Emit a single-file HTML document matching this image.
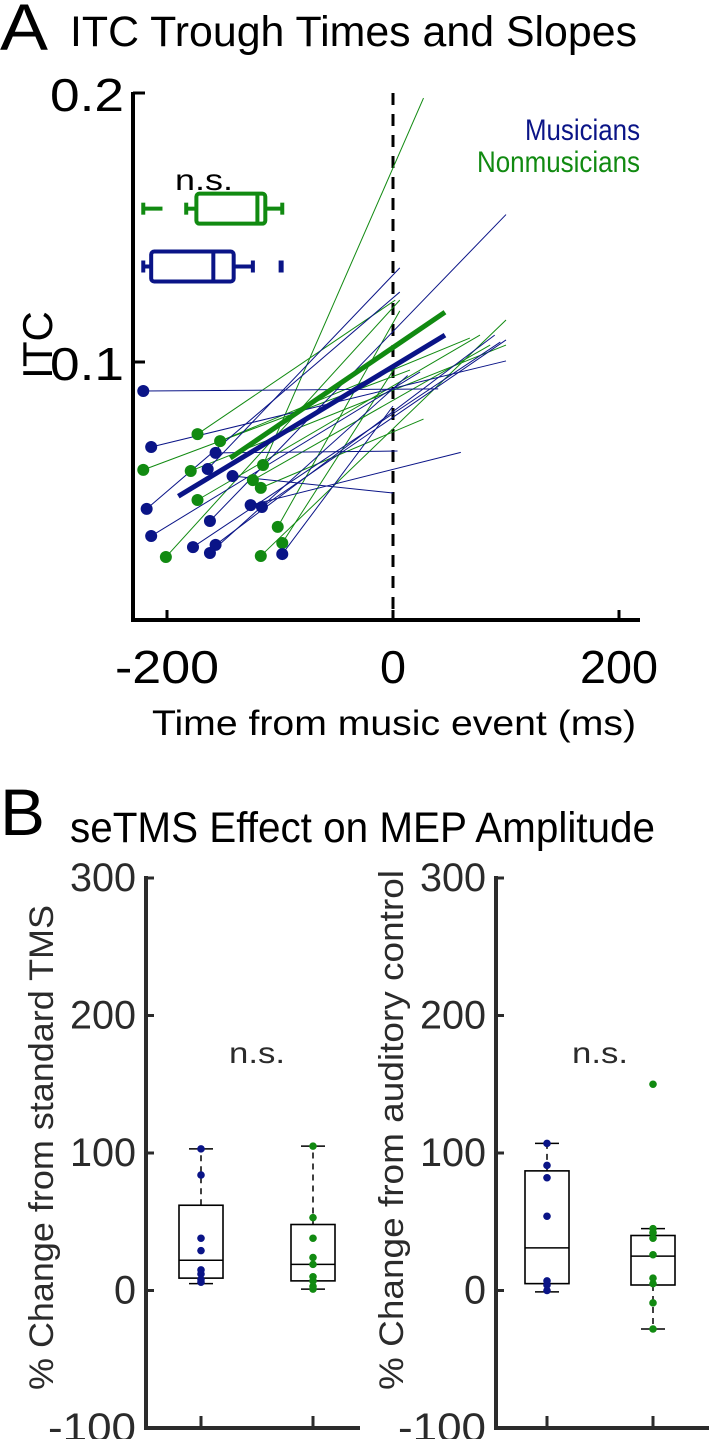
<!DOCTYPE html>
<html><head><meta charset="utf-8">
<style>
html,body{margin:0;padding:0;background:#fff;}
svg{display:block;font-family:"Liberation Sans",Arial,sans-serif;}
</style></head>
<body>
<svg id="fig" width="709" height="1439" viewBox="0 0 709 1439" xmlns="http://www.w3.org/2000/svg">
<text x="0" y="50" font-size="66" textLength="48" lengthAdjust="spacingAndGlyphs">A</text>
<text x="70" y="46" font-size="43" textLength="567" lengthAdjust="spacingAndGlyphs">ITC Trough Times and Slopes</text>
<text x="0" y="835" font-size="66" textLength="45" lengthAdjust="spacingAndGlyphs">B</text>
<text x="70" y="842" font-size="43" textLength="585" lengthAdjust="spacingAndGlyphs">seTMS Effect on MEP Amplitude</text>
<g id="gA"></g>
<g id="gB1"></g>
<g id="gB2"></g>
</svg>
<script>
// ---- Panel A data ----
const xTicksA = [-200, 0, 200];
const yTicksA = [0.1, 0.2];
const blueStartT = [-221,-214,-157,-164,-142,-218,-126,-116,-162,-214,-177,-157,-162,-98];
const blueStartI = [0.0892,0.0684,0.0662,0.0602,0.0576,0.0454,0.0468,0.0461,0.0409,0.0353,0.0312,0.0320,0.0290,0.0286];
const blueEndT = [40,100,4,6,0,6,60,100,100,24,95,90,13,0];
const blueEndI = [0.0900,0.1004,0.0669,0.1350,0.0513,0.1260,0.0664,0.1082,0.1548,0.0963,0.1074,0.1100,0.0950,0.0836];
const greenStartT = [-173,-153,-221,-179,-115,-124,-117,-173,-102,-98,-117,-201];
const greenStartI = [0.0732,0.0706,0.0599,0.0595,0.0617,0.0561,0.0532,0.0487,0.0387,0.0327,0.0279,0.0275];
const greenEndT = [2,68,15,100,27,86,27,77,6,6,100,6];
const greenEndI = [0.1230,0.1089,0.0970,0.1063,0.1981,0.1063,0.0788,0.1100,0.1190,0.1007,0.1156,0.1230];
const meanBlueT = [-190, 46];   const meanBlueI = [0.0501, 0.1100];
const meanGreenT = [-144, 46];  const meanGreenI = [0.0643, 0.1185];
// boxplots of trough times: [whiskerLow, q1, median, q3, whiskerHigh]
const boxBlue = [-221,-214,-159,-141,-124]; const outBlue = [-99];
const boxGreen = [-183,-174,-120,-113,-98]; const outGreen = [-221,-204];
const boxBlueI = 0.1355, boxGreenI = 0.1570;
// ---- Panel B data ----
const yTicksB = [-100,0,100,200,300];
const b1Blue = [5,9,22,62,103]; const b1BlueDots = [103,84,38,29,15,12,8,6];
const b1Green = [1,7,19,48,105]; const b1GreenDots = [105,53,38,24,19,10,7,3,1];
const b2Blue = [-1,5,31,87,107]; const b2BlueDots = [107,91,82,54,7,4,0];
const b2Green = [-28,4,25,40,45]; const b2GreenDots = [150,45,42,38,26,9,5,-9,-28];

const NS='http://www.w3.org/2000/svg';
const BLUE='#0a1487', GREEN='#118a11';
function mk(parent, tag, attrs, name, text){
  const e=document.createElementNS(NS,tag);
  for(const k in attrs) e.setAttribute(k,attrs[k]);
  
  
  if(text!==undefined) e.textContent=text;
  parent.appendChild(e); return e;
}
// Panel A axes
const xA = t => 393 + t*1.13;
const yA = v => 362 - (v-0.1)*2690;
const gA=document.getElementById('gA');
mk(gA,'line',{x1:133,y1:92,x2:133,y2:621,stroke:'#000','stroke-width':4},'y-axis');
mk(gA,'line',{x1:131,y1:620,x2:640,y2:620,stroke:'#000','stroke-width':4},'x-axis');
mk(gA,'line',{x1:393,y1:93,x2:393,y2:620,stroke:'#000','stroke-width':3,'stroke-dasharray':'12,9'},'event-line');
xTicksA.forEach(t=>{
  mk(gA,'line',{x1:xA(t),y1:620,x2:xA(t),y2:610,stroke:'#000','stroke-width':3},'x-tick');
  const s=String(t);
  mk(gA,'text',{x:xA(t)-(s.length*26)/2,y:683,'font-size':46,textLength:s.length*26,lengthAdjust:'spacingAndGlyphs'},'x-tick-label',s);
});
yTicksA.forEach(v=>{
  mk(gA,'line',{x1:133,y1:yA(v),x2:145,y2:yA(v),stroke:'#000','stroke-width':3},'y-tick');
  mk(gA,'text',{x:50,y:yA(v)+18,'font-size':46,textLength:74,lengthAdjust:'spacingAndGlyphs'},'y-tick-label',v.toFixed(1));
});
mk(gA,'text',{x:152,y:735,'font-size':35,textLength:484,lengthAdjust:'spacingAndGlyphs'},'x-axis-title','Time from music event (ms)');
mk(gA,'text',{x:0,y:0,'font-size':42,'text-anchor':'middle',transform:'translate(52,345) rotate(-90)'},'y-axis-title','ITC');
mk(gA,'text',{x:525,y:140,'font-size':30,textLength:115,lengthAdjust:'spacingAndGlyphs',fill:BLUE},'legend-musicians','Musicians');
mk(gA,'text',{x:477,y:172,'font-size':30,textLength:163,lengthAdjust:'spacingAndGlyphs',fill:GREEN},'legend-nonmusicians','Nonmusicians');
mk(gA,'text',{x:175,y:190,'font-size':30,textLength:58,lengthAdjust:'spacingAndGlyphs'},'ns-label','n.s.');
for(let i=0;i<greenStartT.length;i++){
  mk(gA,'line',{x1:xA(greenStartT[i]),y1:yA(greenStartI[i]),x2:xA(greenEndT[i]),y2:yA(greenEndI[i]),stroke:GREEN,'stroke-width':1},'nonmusician-slope-line');
}
for(let i=0;i<blueStartT.length;i++){
  mk(gA,'line',{x1:xA(blueStartT[i]),y1:yA(blueStartI[i]),x2:xA(blueEndT[i]),y2:yA(blueEndI[i]),stroke:BLUE,'stroke-width':1},'musician-slope-line');
}
mk(gA,'line',{x1:xA(meanBlueT[0]),y1:yA(meanBlueI[0]),x2:xA(meanBlueT[1]),y2:yA(meanBlueI[1]),stroke:BLUE,'stroke-width':5},'musician-mean-line');
mk(gA,'line',{x1:xA(meanGreenT[0]),y1:yA(meanGreenI[0]),x2:xA(meanGreenT[1]),y2:yA(meanGreenI[1]),stroke:GREEN,'stroke-width':5},'nonmusician-mean-line');
for(let i=0;i<greenStartT.length;i++) mk(gA,'circle',{cx:xA(greenStartT[i]),cy:yA(greenStartI[i]),r:6,fill:GREEN},'nonmusician-trough-dot');
for(let i=0;i<blueStartT.length;i++) mk(gA,'circle',{cx:xA(blueStartT[i]),cy:yA(blueStartI[i]),r:6,fill:BLUE},'musician-trough-dot');
function hbox(b, outs, iv, col, name){
  const y=yA(iv), h=30;
  const g=mk(gA,'g',{},name);
  mk(g,'line',{x1:xA(b[0]),y1:y,x2:xA(b[1]),y2:y,stroke:col,'stroke-width':4},'whisker');
  mk(g,'line',{x1:xA(b[3]),y1:y,x2:xA(b[4]),y2:y,stroke:col,'stroke-width':4},'whisker');
  mk(g,'line',{x1:xA(b[4]),y1:y-6,x2:xA(b[4]),y2:y+6,stroke:col,'stroke-width':4},'whisker-cap');
  mk(g,'line',{x1:xA(b[0]),y1:y-6,x2:xA(b[0]),y2:y+6,stroke:col,'stroke-width':4},'whisker-cap');
  mk(g,'rect',{x:xA(b[1]),y:y-h/2,width:xA(b[3])-xA(b[1]),height:h,rx:3,fill:'none',stroke:col,'stroke-width':4},'box');
  mk(g,'line',{x1:xA(b[2]),y1:y-h/2,x2:xA(b[2]),y2:y+h/2,stroke:col,'stroke-width':4},'median');
  if(outs.length===2){
    mk(g,'line',{x1:xA(outs[0]),y1:y,x2:xA(outs[1]),y2:y,stroke:col,'stroke-width':4},'outlier-range');
    mk(g,'line',{x1:xA(outs[0]),y1:y-6,x2:xA(outs[0]),y2:y+6,stroke:col,'stroke-width':4},'outlier-cap');
  } else outs.forEach(o=>mk(g,'line',{x1:xA(o),y1:y-6,x2:xA(o),y2:y+6,stroke:col,'stroke-width':5},'outlier'));
}
hbox(boxGreen,outGreen,boxGreenI,GREEN,'nonmusician-trough-boxplot');
hbox(boxBlue,outBlue,boxBlueI,BLUE,'musician-trough-boxplot');

// Panel B
const yB = v => 1290.5 - v*1.375;
function panelB(gid, axX, axRight, cats, boxes, dots, title, titleLen){
  const g=document.getElementById(gid), C='#2b2b2b';
  mk(g,'line',{x1:axX,y1:876,x2:axX,y2:1430,stroke:C,'stroke-width':4},'y-axis');
  mk(g,'line',{x1:axX-2,y1:1428,x2:axRight,y2:1428,stroke:C,'stroke-width':4},'x-axis');
  yTicksB.forEach(v=>{
    mk(g,'line',{x1:axX,y1:yB(v),x2:axX+8,y2:yB(v),stroke:C,'stroke-width':3},'y-tick');
    const s=String(v);
    const w=s.length*22;
    mk(g,'text',{x:axX-10-w,y:yB(v)+13,'font-size':40,textLength:w,lengthAdjust:'spacingAndGlyphs',fill:C},'y-tick-label',s);
  });
  cats.forEach(cx=>mk(g,'line',{x1:cx,y1:1428,x2:cx,y2:1416,stroke:C,'stroke-width':3},'x-tick'));
  mk(g,'text',{x:-titleLen/2,y:0,'font-size':34,textLength:titleLen,lengthAdjust:'spacingAndGlyphs',fill:C,transform:`translate(${axX-93},${1390-titleLen/2}) rotate(-90)`},'y-axis-title',title);
  mk(g,'text',{x:(cats[0]+cats[1])/2-28,y:1063,'font-size':30,textLength:56,lengthAdjust:'spacingAndGlyphs',fill:C},'ns-label','n.s.');
  const cols=[BLUE,GREEN], nm=['musicians','nonmusicians'];
  boxes.forEach((b,i)=>{
    const cx=cats[i], w=22;
    mk(g,'line',{x1:cx,y1:yB(b[3]),x2:cx,y2:yB(b[4]),stroke:'#000','stroke-width':1.5,'stroke-dasharray':'6,5'},nm[i]+'-upper-whisker');
    mk(g,'line',{x1:cx,y1:yB(b[1]),x2:cx,y2:yB(b[0]),stroke:'#000','stroke-width':1.5,'stroke-dasharray':'6,5'},nm[i]+'-lower-whisker');
    mk(g,'line',{x1:cx-12,y1:yB(b[4]),x2:cx+12,y2:yB(b[4]),stroke:'#000','stroke-width':1.5},nm[i]+'-max-cap');
    mk(g,'line',{x1:cx-12,y1:yB(b[0]),x2:cx+12,y2:yB(b[0]),stroke:'#000','stroke-width':1.5},nm[i]+'-min-cap');
    mk(g,'rect',{x:cx-w,y:yB(b[3]),width:2*w,height:yB(b[1])-yB(b[3]),fill:'none',stroke:'#000','stroke-width':1.6},nm[i]+'-box');
    mk(g,'line',{x1:cx-w,y1:yB(b[2]),x2:cx+w,y2:yB(b[2]),stroke:'#000','stroke-width':1.6},nm[i]+'-median');
    dots[i].forEach(v=>mk(g,'circle',{cx:cx,cy:yB(v),r:3.8,fill:cols[i]},nm[i]+'-dot'));
  });
}
panelB('gB1',146,360,[201,313],[b1Blue,b1Green],[b1BlueDots,b1GreenDots],'% Change from standard TMS',485);
panelB('gB2',496,709,[547,653],[b2Blue,b2Green],[b2BlueDots,b2GreenDots],'% Change from auditory control',520);
</script>
</body></html>
